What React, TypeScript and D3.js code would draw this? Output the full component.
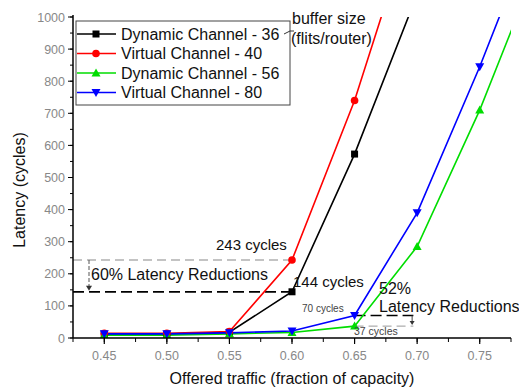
import React from "react";
import * as d3 from "d3";

const xValues = [0.45, 0.5, 0.55, 0.6, 0.65, 0.7, 0.75, 0.8];
const dyn36 = [12, 12, 18, 144, 573, 1070, null, null];
const vc40 = [15, 15, 20, 243, 740, 1350, null, null];
const dyn56 = [9, 9, 13, 17, 37, 285, 710, 1200];
const vc80 = [13, 13, 16, 22, 70, 390, 845, 1340];
const xTicks = [0.45, 0.5, 0.55, 0.6, 0.65, 0.7, 0.75];
const yTicks = [0, 100, 200, 300, 400, 500, 600, 700, 800, 900, 1000];
const legendLabels = ["Dynamic Channel - 36", "Virtual Channel - 40", "Dynamic Channel - 56", "Virtual Channel - 80"];

const W = 519, H = 390;
const L = 73, R = 511, T = 17, B = 338;

export default function App() {
  const x = d3.scaleLinear().domain([0.425, 0.775]).range([L, R]);
  const y = d3.scaleLinear().domain([0, 1000]).range([B, T]);

  const series = [
    { vals: dyn36, color: "#000000", marker: "square", lastMarker: 4 },
    { vals: vc40, color: "#ff0000", marker: "circle", lastMarker: 4 },
    { vals: dyn56, color: "#00dd00", marker: "up", lastMarker: 6 },
    { vals: vc80, color: "#0000ff", marker: "down", lastMarker: 6 },
  ];

  const line = d3
    .line<[number, number | null]>()
    .defined((d) => d[1] !== null)
    .x((d) => x(d[0]))
    .y((d) => y(d[1] as number));

  const marker = (type: string, cx: number, cy: number, color: string, key: string) => {
    if (type === "square") return <rect key={key} x={cx - 3.5} y={cy - 3.5} width={7} height={7} fill={color} />;
    if (type === "circle") return <circle key={key} cx={cx} cy={cy} r={3.8} fill={color} />;
    if (type === "up") return <path key={key} d={`M${cx},${cy - 4.5}L${cx + 4.5},${cy + 3.5}L${cx - 4.5},${cy + 3.5}Z`} fill={color} />;
    return <path key={key} d={`M${cx},${cy + 4.5}L${cx + 4.5},${cy - 3.5}L${cx - 4.5},${cy - 3.5}Z`} fill={color} />;
  };

  const minorX = d3.range(0.425, 0.776, 0.025);
  const minorY = d3.range(0, 1001, 50);

  const tickFont = { fontFamily: "Liberation Sans, Arial, sans-serif", fontSize: 12.5, fill: "#888" };
  const labelFont = { fontFamily: "Liberation Sans, Arial, sans-serif", fill: "#111" };

  return (
    <svg width={W} height={H} style={{ position: "absolute", left: 0, top: 0 }}>
      <rect width={W} height={H} fill="#fff" />
      <defs>
        <clipPath id="plot">
          <rect x={L} y={T} width={R - L} height={B - T} />
        </clipPath>
      </defs>

      {/* annotation dashed lines */}
      <line x1={L} x2={x(0.6)} y1={y(243)} y2={y(243)} stroke="#888" strokeDasharray="9,5" strokeWidth={1.2} />
      <line x1={L} x2={x(0.6)} y1={y(144)} y2={y(144)} stroke="#000" strokeDasharray="11,5" strokeWidth={1.8} />
      <line x1={89} x2={89} y1={y(243)} y2={y(144) - 4} stroke="#555" strokeDasharray="4,2" strokeWidth={1} />
      <path d={`M86,${y(144) - 6} L92,${y(144) - 6} L89,${y(144) - 1} Z`} fill="#333" />
      <line x1={x(0.65)} x2={x(0.697)} y1={y(70)} y2={y(70)} stroke="#000" strokeDasharray="11,5" strokeWidth={1.5} />
      <line x1={x(0.65)} x2={x(0.697)} y1={y(37)} y2={y(37)} stroke="#999" strokeDasharray="9,5" strokeWidth={1} />
      <line x1={x(0.696)} x2={x(0.696)} y1={y(70)} y2={y(37) - 3} stroke="#444" strokeWidth={1} />
      <path d={`M${x(0.696) - 2.5},${y(37) - 5} L${x(0.696) + 2.5},${y(37) - 5} L${x(0.696)},${y(37) - 1} Z`} fill="#333" />

      <g clipPath="url(#plot)">
        {series.map((s, i) => (
          <path
            key={i}
            d={line(xValues.map((xv, j) => [xv, s.vals[j]]) as [number, number | null][]) || ""}
            fill="none"
            stroke={s.color}
            strokeWidth={1.6}
          />
        ))}
        {series.map((s, i) =>
          xValues.map((xv, j) =>
            j <= s.lastMarker && s.vals[j] !== null
              ? marker(s.marker, x(xv), y(s.vals[j] as number), s.color, `m${i}-${j}`)
              : null
          )
        )}
      </g>

      {/* axes */}
      <line x1={L} x2={L} y1={T - 2} y2={B} stroke="#000" strokeWidth={1.5} />
      <line x1={L} x2={R} y1={B} y2={B} stroke="#000" strokeWidth={1.5} />
      {yTicks.map((t) => (
        <g key={`yt${t}`}>
          <line x1={L - 5} x2={L} y1={y(t)} y2={y(t)} stroke="#000" strokeWidth={1} />
          <text x={L - 8} y={y(t) + 4.5} textAnchor="end" {...tickFont}>{t}</text>
        </g>
      ))}
      {minorY.map((t) => (
        <line key={`ym${t}`} x1={L - 3} x2={L} y1={y(t)} y2={y(t)} stroke="#000" strokeWidth={1} />
      ))}
      {xTicks.map((t) => (
        <g key={`xt${t}`}>
          <line x1={x(t)} x2={x(t)} y1={B} y2={B + 6} stroke="#000" strokeWidth={1.2} />
          <text x={x(t)} y={B + 22} textAnchor="middle" {...tickFont}>{t.toFixed(2)}</text>
        </g>
      ))}
      {minorX.map((t, i) => (
        <line key={`xm${i}`} x1={x(t)} x2={x(t)} y1={B} y2={B + 4} stroke="#000" strokeWidth={1} />
      ))}

      <text x={292} y={384} textAnchor="middle" fontSize={16} {...labelFont}>Offered traffic (fraction of capacity)</text>
      <text transform={`translate(25,190) rotate(-90)`} textAnchor="middle" fontSize={16} {...labelFont}>Latency (cycles)</text>

      {/* legend */}
      <rect x={76} y={21} width={214} height={84} fill="#fff" stroke="#444" strokeWidth={1} />
      {legendLabels.map((lab, i) => {
        const ly = 34 + i * 19.5;
        const s = series[i];
        return (
          <g key={`lg${i}`}>
            <line x1={77} x2={116} y1={ly} y2={ly} stroke={s.color} strokeWidth={1.6} />
            {marker(s.marker, 96, ly, s.color, `lm${i}`)}
            <text x={121} y={ly + 5.5} fontSize={16} {...labelFont}>{lab}</text>
          </g>
        );
      })}
      <text x={292} y={24} fontSize={16} {...labelFont}>buffer size</text>
      <text x={291} y={44} fontSize={16} {...labelFont}>(flits/router)</text>
      <path d="M284,34 L290,31 L294,31" fill="none" stroke="#333" strokeWidth={1} />

      {/* annotation texts */}
      <text x={216} y={250} fontSize={15} {...labelFont}>243 cycles</text>
      <text x={91} y={280} fontSize={16} {...labelFont}>60% Latency Reductions</text>
      <text x={293} y={287} fontSize={15} {...labelFont}>144 cycles</text>
      <text x={379} y={294} fontSize={16} {...labelFont}>52%</text>
      <text x={379} y={312} fontSize={16} {...labelFont}>Latency Reductions</text>
      <text x={302} y={312} fontSize={10} fill="#444" fontFamily="Liberation Sans, Arial, sans-serif">70 cycles</text>
      <text x={354} y={335} fontSize={10.5} fill="#444" fontFamily="Liberation Sans, Arial, sans-serif">37 cycles</text>
    </svg>
  );
}
